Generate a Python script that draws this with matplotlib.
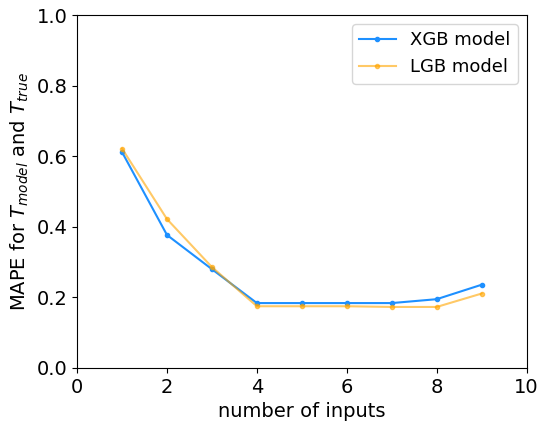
import numpy as np
import matplotlib.pyplot as plt

# number of inputs vs MAPE
n_inputs = [1, 2, 3, 4, 5, 6, 7, 8, 9]
xgb_mape = [0.612, 0.377, 0.280, 0.184, 0.184, 0.184, 0.184, 0.195, 0.236]
lgb_mape = [0.622, 0.422, 0.286, 0.175, 0.175, 0.175, 0.173, 0.173, 0.211]

plt.rcParams['font.size'] = 14

fig, ax = plt.subplots(figsize=(5.39, 4.22), dpi=100)
ax.plot(n_inputs, xgb_mape, '.-', color='dodgerblue', markersize=6, label='XGB model')
ax.plot(n_inputs, lgb_mape, '.-', color='orange', alpha=0.6, markersize=6, label='LGB model')

ax.set_xlim(0, 10)
ax.set_ylim(0, 1.0)
ax.set_xlabel('number of inputs')
ax.set_ylabel('MAPE for $T_{model}$ and $T_{true}$')
ax.legend(loc='upper right', fontsize=13)

fig.subplots_adjust(left=0.143, right=0.977, top=0.964, bottom=0.128)
plt.savefig('out.png')
